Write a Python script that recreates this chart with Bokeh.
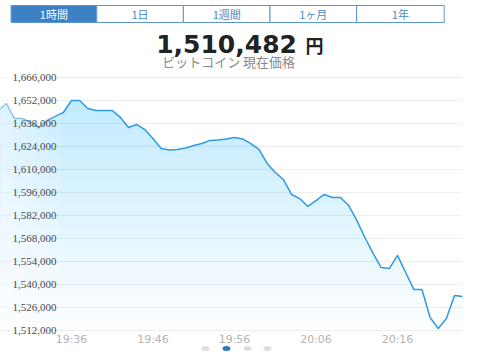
import numpy as np
from bokeh.plotting import figure
from bokeh.models import Range1d, FixedTicker, Grid, ColumnDataSource, LabelSet
from bokeh.layouts import column
from bokeh.core.properties import value
from bokeh.embed import file_html
from bokeh.resources import INLINE

# ---------------- data ----------------
times = ["19:27", "19:28", "19:29", "19:30", "19:31", "19:32", "19:33", "19:34", "19:35",
         "19:36", "19:37", "19:38", "19:39", "19:40", "19:41", "19:42", "19:43", "19:44",
         "19:45", "19:46", "19:47", "19:48", "19:49", "19:50", "19:51", "19:52", "19:53",
         "19:54", "19:55", "19:56", "19:57", "19:58", "19:59", "20:00", "20:01", "20:02",
         "20:03", "20:04", "20:05", "20:06", "20:07", "20:08", "20:09", "20:10", "20:11",
         "20:12", "20:13", "20:14", "20:15", "20:16", "20:17", "20:18", "20:19", "20:20",
         "20:21", "20:22", "20:23", "20:24"]
prices = [1645900, 1650200, 1641000, 1641000, 1638600, 1635600, 1639800, 1642300, 1644700,
          1652000, 1652000, 1647100, 1645900, 1645900, 1645900, 1641700, 1635600, 1637400,
          1634300, 1628900, 1622800, 1621900, 1622200, 1623100, 1624600, 1625800, 1627700,
          1628000, 1628600, 1629500, 1628600, 1625800, 1622200, 1613700, 1608200, 1603900,
          1594800, 1592300, 1587500, 1591100, 1594800, 1593000, 1593000, 1588100, 1579000,
          1568600, 1558900, 1550300, 1549700, 1557700, 1547300, 1537000, 1537000, 1519900,
          1513200, 1519300, 1533300, 1532700]
y_ticks = [1512000, 1526000, 1540000, 1554000, 1568000, 1582000, 1596000,
           1610000, 1624000, 1638000, 1652000, 1666000]
x_tick_labels = ["19:36", "19:46", "19:56", "20:06", "20:16"]
tabs = ["1時間", "1日", "1週間", "1ヶ月", "1年"]
current_price = "1,510,482"
currency = "円"
subtitle = "ビットコイン 現在価格"


def to_min(s, ref="19:36"):
    h, m = map(int, s.split(":"))
    rh, rm = map(int, ref.split(":"))
    return (h * 60 + m) - (rh * 60 + rm)


t = np.array([to_min(s) for s in times], dtype=float)
v = np.array(prices, dtype=float)
x_ticks = [to_min(s) for s in x_tick_labels]

JP = "Noto Sans CJK JP"

# ---------------- header ----------------
hdr = figure(width=480, height=72, x_range=Range1d(0, 480), y_range=Range1d(72, 0),
             x_axis_type=None, y_axis_type=None, toolbar_location=None,
             output_backend="svg", min_border=0)
hdr.outline_line_color = None
hdr.grid.visible = False

lefts = [11, 100, 190, 280, 370]
rights = [100, 190, 280, 370, 461]
fills = ["#3d80c3"] + ["#ffffff"] * 4
tcols = ["#ffffff"] + ["#4a8bcb"] * 4
hdr.quad(left=lefts, right=rights, top=[5] * 5, bottom=[22] * 5,
         fill_color=fills, line_color="#5b96d0", line_width=1)
hdr.text(x=[(a + b) / 2 for a, b in zip(lefts, rights)], y=[13.5] * 5, text=tabs,
         text_font=value(JP), text_font_size=value("11px"), text_color=tcols,
         text_align="center", text_baseline="middle")
hdr.text(x=[308], y=[43], text=[current_price], text_font=value("DejaVu Sans"),
         text_font_style="bold", text_font_size=value("25px"), text_color="#222222",
         text_align="right", text_baseline="middle")
hdr.text(x=[317], y=[44], text=[currency], text_font=value(JP),
         text_font_style="bold", text_font_size=value("18px"), text_color="#222222",
         text_align="left", text_baseline="middle")
hdr.text(x=[237], y=[61], text=[subtitle], text_font=value(JP),
         text_font_size=value("13px"), text_color="#8a8a8a",
         text_align="center", text_baseline="middle")

# ---------------- chart (frame fills the rest of the page) ----------------
ppm = 8.15                    # pixels per minute
x0 = -71 / ppm                # left edge of frame in minutes
x1 = x0 + 462 / ppm
vpp = 14000 / 23              # price per pixel
ch = 356 - 72                 # chart frame height in px
y_top = 1666000 + 5 * vpp
y_bot = y_top - ch * vpp


def py(px):                   # page pixel row -> price coordinate
    return y_top - (px - 72) * vpp


p = figure(width=480, height=ch, x_range=Range1d(x0, x1), y_range=Range1d(y_bot, y_top),
           x_axis_type=None, y_axis_type=None, toolbar_location=None, output_backend="svg",
           min_border_left=0, min_border_right=18, min_border_top=0, min_border_bottom=0)
p.outline_line_color = None
p.add_layout(Grid(dimension=1, ticker=FixedTicker(ticks=y_ticks),
                  grid_line_color="#eeeeee", grid_line_width=1))

# gradient-like fill: stacked translucent layers
for lvl in np.arange(y_ticks[0], y_ticks[-2] + 1, 7000):
    p.varea(x=t, y1=np.full_like(v, lvl), y2=np.maximum(v, lvl),
            fill_color="#4aaee6", fill_alpha=0.016)
p.line(x=t, y=v, line_color="#2f9ae0", line_width=1.5)

# whitening toward the left edge
for px in [12, 24, 36, 48, 60]:
    p.quad(left=[x0 - 1], right=[x0 + px / ppm], bottom=[py(334)], top=[y_top],
           fill_color="#ffffff", fill_alpha=0.12, line_color=None)

# price labels inside the plot
ysrc = ColumnDataSource(dict(x=[x0 + 12 / ppm] * len(y_ticks), y=y_ticks,
                             t=[f"{tk:,}" for tk in y_ticks]))
p.add_layout(LabelSet(x="x", y="y", text="t", source=ysrc,
                      text_font="DejaVu Sans", text_font_size="11px",
                      text_color="#4a4a4a", text_align="left", text_baseline="middle"))

# time labels
p.text(x=x_ticks, y=[py(338.5)] * len(x_ticks), text=x_tick_labels,
       text_font=value("DejaVu Sans"), text_font_size=value("11px"),
       text_color="#b3b3b3", text_align="center", text_baseline="middle")

# page dots
dot_px = [205, 226, 247, 267]
p.ellipse(x=[x0 + d / ppm for d in dot_px], y=[py(348)] * 4, width=8 / ppm, height=5 * vpp,
          fill_color=["#dddddd", "#2e7bbf", "#dddddd", "#dddddd"], line_color=None)

layout = column(hdr, p, spacing=0)
open("out.html", "w").write(file_html(layout, INLINE))
